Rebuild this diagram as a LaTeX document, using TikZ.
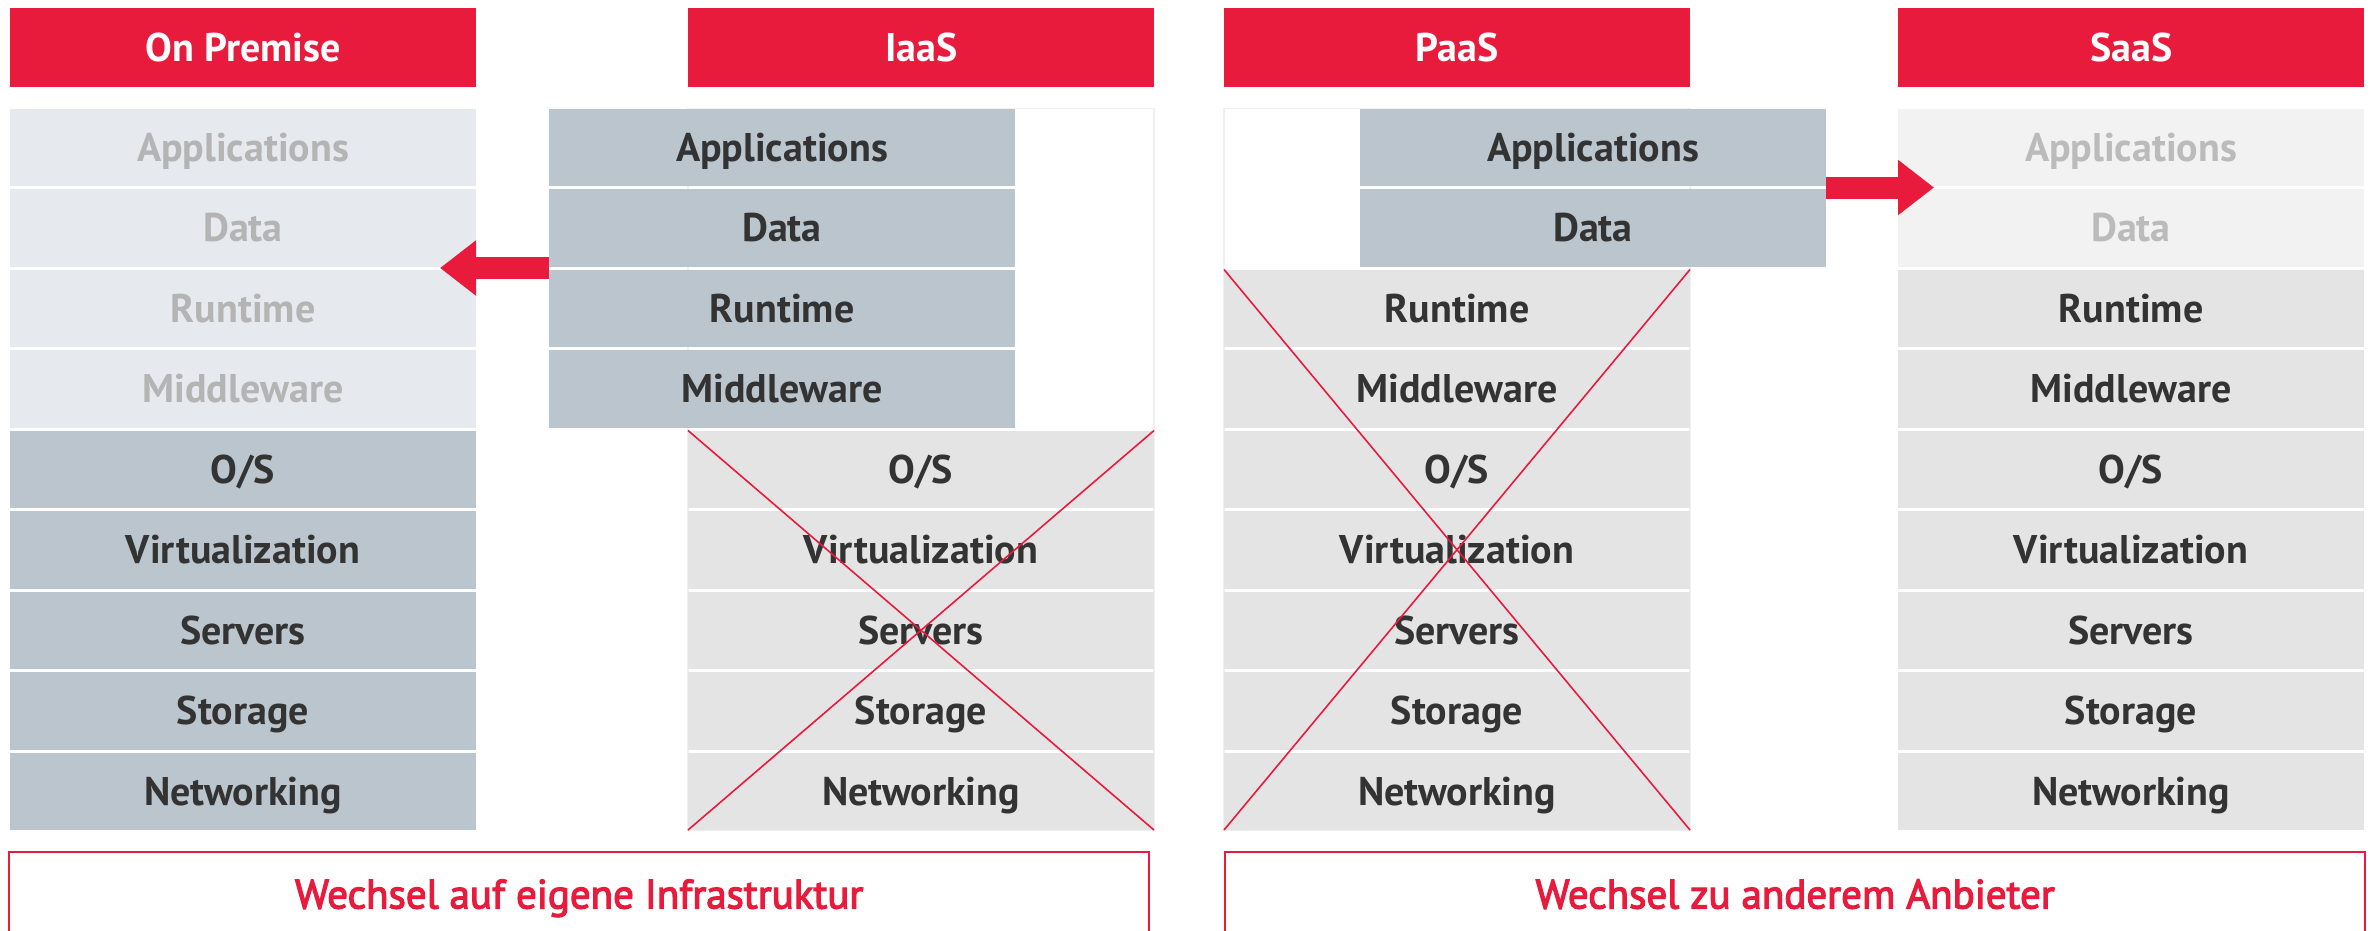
\documentclass[tikz,border=0pt]{standalone}
\usepackage{fontspec}
\setmainfont{PT Sans}
\usetikzlibrary{arrows.meta,calc}

\definecolor{brand}{HTML}{E81B3C}
\definecolor{steel}{HTML}{BBC5CE}
\definecolor{mist}{HTML}{E6E9EE}
\definecolor{ghosttext}{HTML}{B4B4B4}
\definecolor{stone}{HTML}{E4E4E4}
\definecolor{paper}{HTML}{F2F2F2}
\definecolor{ink}{HTML}{333333}
\definecolor{frameline}{HTML}{F0F0F0}

\tikzset{
  capcentred/.style={text height=28pt, text depth=0pt},
  layer/.style={anchor=north west, minimum width=466pt, minimum height=77.5pt,
    inner sep=0pt, outer sep=0pt, capcentred,
    font=\bfseries\fontsize{40}{44}\selectfont},
  owned/.style={layer, fill=steel, text=ink},
  ghost/.style={layer, fill=mist, text=ghosttext},
  provided/.style={layer, fill=stone, text=ink},
  faded/.style={layer, fill=paper, text=ghosttext!90},
  header/.style={anchor=north west, minimum width=466pt, minimum height=79pt,
    inner sep=0pt, fill=brand, text=white, capcentred,
    font=\bfseries\fontsize{40}{44}\selectfont},
  footer/.style={anchor=north west, minimum width=1140pt, minimum height=84pt,
    inner sep=0pt, text=brand, text height=28.5pt, text depth=0pt,
    font=\fontsize{41}{45}\selectfont\addfontfeature{FakeBold=3}},
  footerframe/.style={draw=brand, line width=2pt},
  blockarrow/.style={draw=brand, line width=22pt,
    -{Triangle[length=36pt, width=53pt, fill=brand]}},
  crossline/.style={draw=brand, line width=1.6pt},
  columnframe/.style={draw=frameline, line width=1.5pt},
}

\begin{document}
\begin{tikzpicture}[x=1pt, y=-1pt]
\useasboundingbox (0,0) rectangle (2376,930);

% faint outlines of the column slots
\draw[columnframe] (688,108.5) rectangle (1154,830);
\draw[columnframe] (1224,108.5) rectangle (1690,830);

% column headers
\node[header] (hOn)   at (10,8)   {On Premise};
\node[header] (hIaaS) at (688,8)  {IaaS};
\node[header] (hPaaS) at (1224,8) {PaaS};
\node[header] (hSaaS) at (1898,8) {SaaS};

% On Premise stack
\foreach \lab [count=\i from 0] in {Applications,Data,Runtime,Middleware}
  \node[ghost] (op\i) at (10,108.5+80.5*\i) {\lab};
\foreach \lab [count=\i from 4] in {{O/S},Virtualization,Servers,Storage,Networking}
  \node[owned] (op\i) at (10,108.5+80.5*\i) {\lab};

% IaaS stack
\foreach \lab [count=\i from 0] in {Applications,Data,Runtime,Middleware}
  \node[owned] (ia\i) at (549,108.5+80.5*\i) {\lab};
\foreach \lab [count=\i from 4] in {{O/S},Virtualization,Servers,Storage,Networking}
  \node[provided] (ia\i) at (688,108.5+80.5*\i) {\lab};

% PaaS stack
\foreach \lab [count=\i from 0] in {Applications,Data}
  \node[owned] (pa\i) at (1360,108.5+80.5*\i) {\lab};
\foreach \lab [count=\i from 2] in {Runtime,Middleware,{O/S},Virtualization,Servers,Storage,Networking}
  \node[provided] (pa\i) at (1224,108.5+80.5*\i) {\lab};

% SaaS stack
\foreach \lab [count=\i from 0] in {Applications,Data}
  \node[faded] (sa\i) at (1898,108.5+80.5*\i) {\lab};
\foreach \lab [count=\i from 2] in {Runtime,Middleware,{O/S},Virtualization,Servers,Storage,Networking}
  \node[provided] (sa\i) at (1898,108.5+80.5*\i) {\lab};

% crossed-out layers
\draw[crossline] (ia4.north west) -- (ia8.south east);
\draw[crossline] (ia4.north east) -- (ia8.south west);
\draw[crossline] (pa2.north west) -- (pa8.south east);
\draw[crossline] (pa2.north east) -- (pa8.south west);

% migration arrows
\coordinate (ltail) at ($(ia1.south west)+(0,1.5)$);
\coordinate (ltip)  at ($(op1.south east)+(-36,1.5)$);
\draw[blockarrow] (ltail) -- (ltip);
\coordinate (rtail) at ($(pa0.south east)+(0,1.5)$);
\coordinate (rtip)  at ($(sa0.south west)+(36,1.5)$);
\draw[blockarrow] (rtail) -- (rtip);

% captions
\node[footer] (fl) at (9,852)    {Wechsel auf eigene Infrastruktur};
\node[footer] (fr) at (1225,852) {Wechsel zu anderem Anbieter};
\draw[footerframe] (fl.south west) |- (fl.north east) -- (fl.south east);
\draw[footerframe] (fr.south west) |- (fr.north east) -- (fr.south east);
\end{tikzpicture}
\end{document}
